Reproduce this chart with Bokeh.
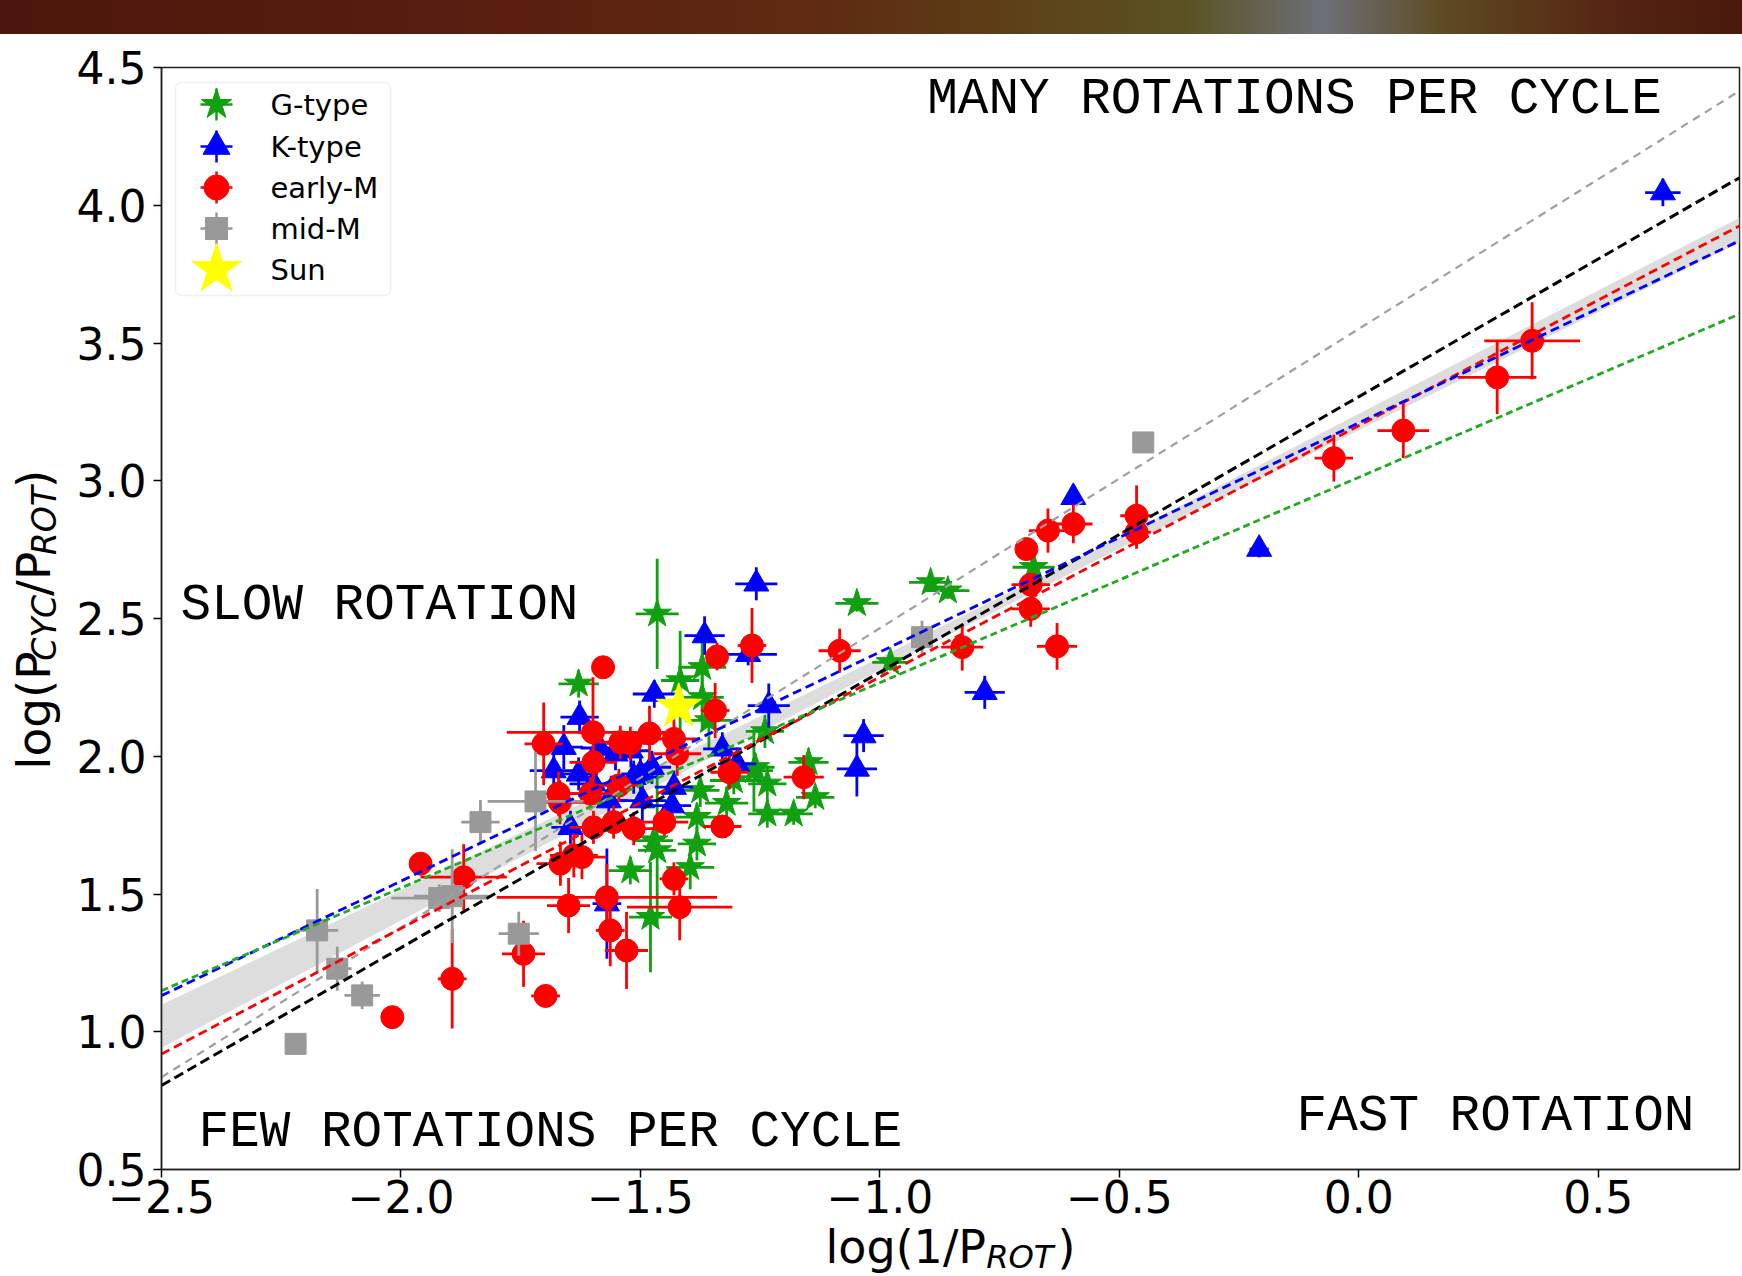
from bokeh.plotting import figure
from bokeh.models import ColumnDataSource, Range1d, FixedTicker, Label, BoxAnnotation, Div
from bokeh.layouts import column, row
from bokeh.embed import file_html
from bokeh.resources import INLINE

# ---------------- data ----------------
# G-type stars
g_x = [-1.465, -1.048, -1.629, -0.894, -0.858, -0.978, -0.679, -1.149, -1.135, -1.180,
       -1.235, -1.235, -1.305, -1.263, -1.382, -1.396, -1.382, -1.465, -1.479, -1.521,
       -1.375, -1.472, -1.417, -1.371, -1.371, -1.357, -1.260, -1.240, -1.320]
g_y = [2.517, 2.555, 2.263, 2.631, 2.601, 2.341, 2.686, 1.978, 1.851, 1.791,
       1.791, 1.900, 1.912, 1.948, 1.779, 1.597, 1.682, 1.658, 1.416, 1.585,
       1.876, 1.694, 2.275, 2.323, 2.214, 2.130, 1.960, 2.090, 1.830]
g_xerr = [0.045, 0.045, 0.042, 0.045, 0.045, 0.038, 0.044, 0.042, 0.040, 0.040,
          0.040, 0.040, 0.050, 0.040, 0.045, 0.050, 0.040, 0.040, 0.045, 0.045,
          0.040, 0.040, 0.040, 0.050, 0.045, 0.050, 0.040, 0.040, 0.045]
g_yerr = [0.20, 0.03, 0.05, 0.03, 0.03, 0.03, 0.03, 0.05, 0.04, 0.04,
          0.05, 0.06, 0.05, 0.15, 0.05, 0.08, 0.06, 0.28, 0.20, 0.05,
          0.06, 0.05, 0.18, 0.15, 0.12, 0.10, 0.05, 0.06, 0.06]

# K-type stars
k_x = [0.635, -0.596, -0.208, -0.781, -1.034, -1.048, -1.258, -1.366, -1.275, -1.471,
       -1.232, -1.627, -1.660, -1.681, -1.629, -1.552, -1.566, -1.496, -1.476, -1.430,
       -1.434, -1.646, -1.329, -1.298, -1.514, -1.598, -1.570, -1.500, -1.585, -1.520]
k_y = [4.046, 2.940, 2.752, 2.232, 2.075, 1.954, 2.626, 2.438, 2.370, 2.226,
       2.184, 2.142, 2.033, 1.948, 1.936, 2.009, 1.839, 1.839, 1.960, 1.888,
       1.821, 1.742, 2.027, 1.972, 1.924, 1.900, 1.465, 1.936, 2.030, 2.020]
k_xerr = [0.037, 0.010, 0.020, 0.042, 0.042, 0.042, 0.044, 0.042, 0.060, 0.045,
          0.044, 0.040, 0.040, 0.050, 0.040, 0.040, 0.040, 0.050, 0.040, 0.040,
          0.040, 0.040, 0.040, 0.040, 0.050, 0.050, 0.030, 0.040, 0.040, 0.040]
k_yerr = [0.05, 0.01, 0.03, 0.06, 0.06, 0.10, 0.06, 0.07, 0.04, 0.05,
          0.08, 0.06, 0.08, 0.06, 0.06, 0.06, 0.06, 0.08, 0.06, 0.06,
          0.06, 0.06, 0.06, 0.06, 0.06, 0.06, 0.20, 0.06, 0.06, 0.06]

# early-M stars
m_x = [0.362, 0.289, 0.093, -0.052, -0.464, -0.464, -0.596, -0.649, -0.694, -0.685,
       -0.685, -0.630, -0.828, -1.084, -1.267, -1.340, -1.578, -1.344, -1.159, -1.314,
       -1.329, -1.450, -1.514, -1.556, -1.598, -1.604, -1.545, -1.598, -1.671, -1.668,
       -1.702, -1.599, -1.542, -1.521, -1.481, -1.430, -1.423, -1.959, -1.869, -1.667,
       -1.622, -1.639, -1.650, -1.570, -1.418, -1.430, -1.563, -1.529, -1.744, -1.893,
       -1.698, -2.018]
m_y = [3.508, 3.375, 3.182, 3.082, 2.873, 2.813, 2.843, 2.819, 2.752, 2.623,
       2.535, 2.399, 2.396, 2.383, 2.402, 2.362, 2.323, 2.166, 1.924, 1.942,
       1.745, 1.761, 1.737, 1.761, 1.742, 1.864, 1.894, 1.978, 1.864, 1.833,
       2.045, 2.087, 2.051, 2.047, 2.083, 2.063, 2.009, 1.610, 1.561, 1.610,
       1.634, 1.640, 1.458, 1.488, 1.452, 1.555, 1.368, 1.295, 1.283, 1.192,
       1.130, 1.053]
m_xerr = [0.100, 0.082, 0.054, 0.040, 0.034, 0.030, 0.040, 0.040, 0.010, 0.040,
          0.040, 0.042, 0.044, 0.044, 0.030, 0.020, 0.010, 0.030, 0.042, 0.040,
          0.040, 0.050, 0.050, 0.050, 0.050, 0.050, 0.050, 0.050, 0.050, 0.050,
          0.040, 0.180, 0.050, 0.050, 0.050, 0.050, 0.050, 0.020, 0.090, 0.050,
          0.050, 0.050, 0.045, 0.230, 0.110, 0.030, 0.030, 0.045, 0.045, 0.030,
          0.030, 0.020]
m_yerr = [0.140, 0.133, 0.100, 0.085, 0.110, 0.060, 0.070, 0.080, 0.010, 0.040,
          0.065, 0.085, 0.085, 0.080, 0.136, 0.050, 0.030, 0.100, 0.080, 0.060,
          0.030, 0.050, 0.060, 0.060, 0.060, 0.060, 0.060, 0.060, 0.080, 0.080,
          0.150, 0.200, 0.060, 0.060, 0.100, 0.080, 0.080, 0.030, 0.120, 0.080,
          0.080, 0.080, 0.100, 0.120, 0.120, 0.060, 0.130, 0.140, 0.120, 0.180,
          0.040, 0.030]

# mid-M stars
mm_x = [-0.450, -0.912, -1.719, -1.834, -1.920, -1.893, -1.754, -2.175, -2.133, -2.081, -2.220]
mm_y = [3.139, 2.432, 1.836, 1.761, 1.485, 1.492, 1.356, 1.368, 1.229, 1.132, 0.956]
mm_xerr = [0.010, 0.010, 0.100, 0.040, 0.100, 0.080, 0.042, 0.044, 0.030, 0.037, 0.010]
mm_yerr = [0.010, 0.060, 0.180, 0.080, 0.050, 0.170, 0.080, 0.150, 0.080, 0.050, 0.030]

# Sun
sun_x = [-1.42]
sun_y = [2.18]

# fitted relations (end points)
fit_x = [-2.5, 0.795]
fit_gray = [0.835, 4.415]
fit_black = [0.805, 4.100]
fit_red = [0.919, 3.925]
fit_blue = [1.131, 3.871]
fit_green = [1.149, 3.605]

# confidence band
band_x = [-2.5, -2.0, -1.5, -1.0, -0.5, 0.0, 0.795]
band_lo = [0.942, 1.404, 1.862, 2.313, 2.754, 3.183, 3.865]
band_hi = [1.098, 1.514, 1.932, 2.358, 2.794, 3.243, 3.955]

x_ticks = [-2.5, -2.0, -1.5, -1.0, -0.5, 0.0, 0.5]
y_ticks = [0.5, 1.0, 1.5, 2.0, 2.5, 3.0, 3.5, 4.0, 4.5]

legend_names = ["G-type", "K-type", "early-M", "mid-M", "Sun"]

# ---------------- styling / layout ----------------
GREEN = "#10a010"
BLUE = "#0000ff"
RED = "#ff0000"
GRAY = "#999999"
SUNC = "#ffff00"

PAGE_W = 1742
PAGE_H = 1276
BAND_H = 34
YL_W = 72                    # strip holding the y-axis title
P_W = PAGE_W - YL_W
FL, FR, FT, FB = 89, 3, 33, 61
FH = 1102
P_H = FT + FH + FB
XL_OVER = 15                 # x-title strip overlaps the bottom of the plot (transparent)
XL_H = PAGE_H - BAND_H - P_H + XL_OVER
FW = P_W - FL - FR
MID = 0.35                   # baseline offset below a "middle" anchor, in em

p = figure(width=P_W, height=P_H, x_range=Range1d(-2.5, 0.795), y_range=Range1d(0.5, 4.5),
           output_backend="svg", toolbar_location=None,
           min_border_left=FL, min_border_right=FR, min_border_top=FT, min_border_bottom=FB)
p.extra_x_ranges = {"px": Range1d(0, FW)}
p.extra_y_ranges = {"py": Range1d(FH, 0)}

p.xgrid.visible = False
p.ygrid.visible = False
p.background_fill_color = "white"
p.border_fill_color = "white"
p.outline_line_color = "#222222"
p.outline_line_width = 1.5

p.xaxis.ticker = FixedTicker(ticks=x_ticks)
p.yaxis.ticker = FixedTicker(ticks=y_ticks)
p.xaxis.major_label_overrides = {t: (f"{t:.1f}".replace("-", "\u2212")) for t in x_ticks}
p.yaxis.major_label_overrides = {t: f"{t:.1f}" for t in y_ticks}
for ax in (p.xaxis, p.yaxis):
    ax.major_label_text_font = "DejaVu Sans"
    ax.major_label_text_font_size = "44px"
    ax.major_label_text_color = "black"
    ax.major_tick_in = 0
    ax.major_tick_out = 8
    ax.minor_tick_line_color = None
    ax.major_tick_line_width = 1.5
    ax.axis_line_width = 1.5
    ax.axis_line_color = "#222222"
p.xaxis.major_label_standoff = 2
p.yaxis.major_label_standoff = 7

# confidence band
p.varea(x=band_x, y1=band_lo, y2=band_hi, fill_color="#cfcfcf", fill_alpha=0.7)


def add_group(xs, ys, xe, ye, color, marker, size):
    src = ColumnDataSource(dict(
        x=xs, y=ys,
        xl=[a - b for a, b in zip(xs, xe)], xh=[a + b for a, b in zip(xs, xe)],
        yl=[a - b for a, b in zip(ys, ye)], yh=[a + b for a, b in zip(ys, ye)],
    ))
    p.segment(x0="xl", y0="y", x1="xh", y1="y", source=src, line_color=color, line_width=2.8)
    p.segment(x0="x", y0="yl", x1="x", y1="yh", source=src, line_color=color, line_width=2.8)
    p.scatter(x="x", y="y", source=src, marker=marker, size=size,
              fill_color=color, line_color=color, line_width=1)


add_group(g_x, g_y, g_xerr, g_yerr, GREEN, "star", 30)
add_group(k_x, k_y, k_xerr, k_yerr, BLUE, "triangle", 25)
add_group(m_x, m_y, m_xerr, m_yerr, RED, "circle", 23)
add_group(mm_x, mm_y, mm_xerr, mm_yerr, GRAY, "square", 21)
p.scatter(x=sun_x, y=sun_y, marker="star", size=48, fill_color=SUNC, line_color=SUNC)

# fitted lines
p.line(fit_x, fit_gray, line_color="#a0a0a0", line_width=2.2, line_dash="8 6")
p.line(fit_x, fit_black, line_color="black", line_width=3, line_dash="10 5")
p.line(fit_x, fit_red, line_color=RED, line_width=2.8, line_dash="9 5")
p.line(fit_x, fit_blue, line_color=BLUE, line_width=2.8, line_dash="9 5")
p.line(fit_x, fit_green, line_color="#22aa22", line_width=2.8, line_dash="7 4")

# ---------------- legend (drawn in frame pixel space) ----------------
p.add_layout(BoxAnnotation(left=14, right=229, top=15, bottom=228,
                           x_range_name="px", y_range_name="py",
                           fill_color="white", fill_alpha=0.85,
                           line_color="#cccccc", line_width=1.5, border_radius=6))
leg_x = 55
leg_rows = [37, 79, 120, 161, 202]
leg_cols = [GREEN, BLUE, RED, GRAY, SUNC]
leg_marks = ["star", "triangle", "circle", "square", "star"]
leg_sizes = [32, 27, 25, 22, 52]
for i, name in enumerate(legend_names):
    yy = leg_rows[i]
    if i < 4:
        r1 = p.segment(x0=[leg_x - 16], y0=[yy], x1=[leg_x + 16], y1=[yy],
                       x_range_name="px", y_range_name="py",
                       line_color=leg_cols[i], line_width=2.5)
        r2 = p.segment(x0=[leg_x], y0=[yy - 16], x1=[leg_x], y1=[yy + 16],
                       x_range_name="px", y_range_name="py",
                       line_color=leg_cols[i], line_width=2.5)
        r1.level = "overlay"
        r2.level = "overlay"
    r = p.scatter(x=[leg_x], y=[yy], marker=leg_marks[i], size=leg_sizes[i],
                  x_range_name="px", y_range_name="py",
                  fill_color=leg_cols[i], line_color=leg_cols[i])
    r.level = "overlay"
    p.add_layout(Label(x=109, y=yy, x_range_name="px", y_range_name="py", text=name,
                       text_font="DejaVu Sans", text_font_size="29px",
                       text_baseline="middle", text_align="left", text_color="black"))

# ---------------- region annotations (anchor = centre of the capitals) ----------------
ann = [("MANY ROTATIONS PER CYCLE", 1133, 32),
       ("SLOW ROTATION", 218, 538),
       ("FEW ROTATIONS PER CYCLE", 389, 1065),
       ("FAST ROTATION", 1334, 1049)]
for txt, cx, cy in ann:
    p.add_layout(Label(x=cx, y=cy, x_range_name="px", y_range_name="py", text=txt,
                       text_font="Liberation Mono", text_font_size="51px",
                       text_align="center", text_baseline="middle", text_color="black"))

# ---------------- axis titles with subscripts (own strips) ----------------
ADV = {"l": 0.278, "o": 0.612, "g": 0.635, "(": 0.390, ")": 0.390, "P": 0.603, "/": 0.337,
       "1": 0.636, "C": 0.698, "Y": 0.611, "R": 0.695, "O": 0.787, "T": 0.611}


def tw(s, fs, st):
    return sum(ADV[c] for c in s) * fs + (4 if st == "italic" else 0)


def strip(w, h, transparent=False):
    f = figure(width=w, height=h, x_range=Range1d(0, w), y_range=Range1d(h, 0),
               output_backend="svg", toolbar_location=None, x_axis_type=None, y_axis_type=None,
               min_border=0, min_border_left=0, min_border_right=0, min_border_top=0,
               min_border_bottom=0)
    f.outline_line_color = None
    if transparent:
        f.background_fill_color = None
        f.border_fill_color = None
    else:
        f.background_fill_color = "white"
        f.border_fill_color = "white"
    return f


# x title strip: transparent, pulled up over the bottom of the plot
xl = strip(PAGE_W, XL_H, transparent=True)
xl.margin = (-XL_OVER, 0, 0, 0)
xf, xs = 46, 32.2
xparts = [("log(1/P", xf, "normal", 0), ("ROT", xs, "italic", 5), (")", xf, "normal", 0)]
total = sum(tw(s, f, st) for s, f, st, _ in xparts)
cur = YL_W + FL + FW / 2 - total / 2
x_base = XL_H - 13
for s, f, st, dy in xparts:
    xl.add_layout(Label(x=cur, y=x_base + dy - MID * f, text=s,
                        text_font="DejaVu Sans", text_font_size=f"{f}px", text_font_style=st,
                        text_align="left", text_baseline="middle", text_color="black"))
    cur += tw(s, f, st)

# y title strip (rotated, baseline at x = 49)
yl = strip(YL_W, P_H)
yf, ys_ = 47, 33
yparts = [("log(P", yf, "normal", 0), ("CYC", ys_, "italic", 7), ("/P", yf, "normal", 0),
          ("ROT", ys_, "italic", 7), (")", yf, "normal", 0)]
total = sum(tw(s, f, st) for s, f, st, _ in yparts)
cur = 600 + total / 2
y_base = 49
for s, f, st, dx in yparts:
    yl.add_layout(Label(x=y_base + dx - MID * f, y=cur, text=s, angle=1.5707963,
                        text_font="DejaVu Sans", text_font_size=f"{f}px",
                        text_font_style=st, text_align="left", text_baseline="middle",
                        text_color="black"))
    cur -= tw(s, f, st)

band = Div(text="", width=PAGE_W, height=BAND_H,
           styles={"background": "linear-gradient(90deg, #4b170c 0%, #5a1f0f 30%, #5e2c12 48%, "
                                 "#5c4418 60%, #5a5222 68%, #6c7078 76%, #5e4a22 83%, "
                                 "#552612 92%, #4a180c 100%)",
                   "margin": "0", "padding": "0", "overflow": "hidden"})

layout = column(band, row(yl, p, spacing=0), xl, spacing=0)
html = file_html(layout, INLINE)
html = html.replace("</head>", "<style>html,body{margin:0;padding:0;overflow:hidden;}</style></head>", 1)
open("out.html", "w").write(html)
